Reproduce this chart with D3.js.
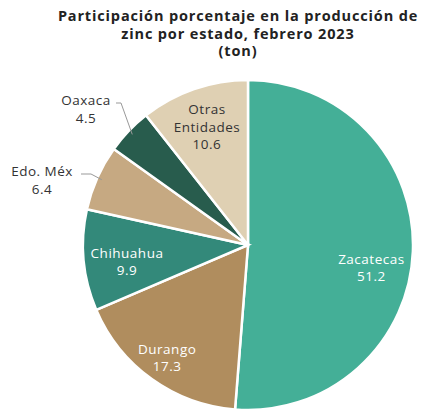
<!DOCTYPE html>
<html>
<head>
<meta charset="utf-8">
<script src="https://cdn.jsdelivr.net/npm/d3@7"></script>
<style>
  body { margin: 0; background: #fff; }
  svg { font-family: "Open Sans", "DejaVu Sans", sans-serif; }
</style>
</head>
<body>
<div id="chart"></div>
<script>
// Data
var states = ["Zacatecas", "Durango", "Chihuahua", "Edo. Méx", "Oaxaca", "Otras Entidades"];
var shares = [51.2, 17.3, 9.9, 6.4, 4.5, 10.6];
var colors = ["#44af97", "#b08d5e", "#33897a", "#c6a982", "#285c4d", "#dfd0b3"];
var titleLines = ["Participación porcentaje en la producción de", "zinc por estado, febrero 2023", "(ton)"];

var svgWidth = 426, svgHeight = 409;
var cx = 248, cy = 245, radius = 165;

var svg = d3.select("#chart").append("svg")
  .attr("width", svgWidth)
  .attr("height", svgHeight);

// title
svg.append("g").selectAll("text")
  .data(titleLines)
  .enter()
  .append("text")
  .attr("x", 238)
  .attr("y", (d, i) => 21 + i * 17.6)
  .attr("text-anchor", "middle")
  .attr("font-size", "14.5px")
  .attr("font-weight", "bold")
  .attr("letter-spacing", "0.85px")
  .attr("fill", "#222")
  .text(d => d);

var table = states.map((s, i) => ({ name: s, value: shares[i], color: colors[i] }));

var pie = d3.pie().value(d => d.value).sort(null);
var arcs = pie(table);
var arc = d3.arc().innerRadius(0).outerRadius(radius);

var chartGroup = svg.append("g")
  .attr("transform", `translate(${cx}, ${cy})`);

chartGroup.selectAll("path")
  .data(arcs)
  .enter()
  .append("path")
  .attr("d", arc)
  .attr("fill", d => d.data.color)
  .attr("stroke", "#fff")
  .attr("stroke-width", 2.5);

// label placement: inside slices (radius factor, angle shift in degrees) or outside with leader line
var labelInfo = {
  "Zacatecas": { r: 0.76, shift: 8, lines: ["Zacatecas"], fill: "#fff" },
  "Durango": { r: 0.84, shift: 0, lines: ["Durango"], fill: "#fff" },
  "Chihuahua": { r: 0.74, shift: -2.4, lines: ["Chihuahua"], fill: "#fff" },
  "Otras Entidades": { r: 0.76, shift: 0, lines: ["Otras", "Entidades"], fill: "#333" }
};

arcs.forEach(function(d) {
  var info = labelInfo[d.data.name];
  var lines;
  var x, y, fill = "#333";
  var mid = (d.startAngle + d.endAngle) / 2;
  if (info) {
    var a = mid + info.shift * Math.PI / 180;
    x = Math.sin(a) * radius * info.r;
    y = -Math.cos(a) * radius * info.r;
    lines = info.lines.concat([d.data.value.toFixed(1)]);
    fill = info.fill;
  } else {
    // outside label with leader line
    var edge = [Math.sin(mid) * radius, -Math.cos(mid) * radius];
    var isOax = d.data.name === "Oaxaca";
    x = isOax ? -162 : -206;
    y = isOax ? -136 : -65;
    var lineY = y - 6;
    var textEnd = isOax ? -132 : -167;
    var elbow = textEnd + (isOax ? 5 : 10);
    chartGroup.append("polyline")
      .attr("points", [[textEnd, lineY], [elbow, lineY], [edge[0] * 0.97, edge[1] * 0.97]].map(p => p.join(",")).join(" "))
      .attr("fill", "none")
      .attr("stroke", "#999")
      .attr("stroke-width", 1);
    lines = [d.data.name, d.data.value.toFixed(1)];
  }
  var n = lines.length;
  chartGroup.append("g").selectAll("text")
    .data(lines)
    .enter()
    .append("text")
    .attr("x", x)
    .attr("y", (t, i) => y + (i - (n - 1) / 2) * 17.5 + 5)
    .attr("text-anchor", "middle")
    .attr("font-size", "13.5px")
    .attr("letter-spacing", "0.5px")
    .attr("fill", fill)
    .text(t => t);
});
</script>
</body>
</html>
